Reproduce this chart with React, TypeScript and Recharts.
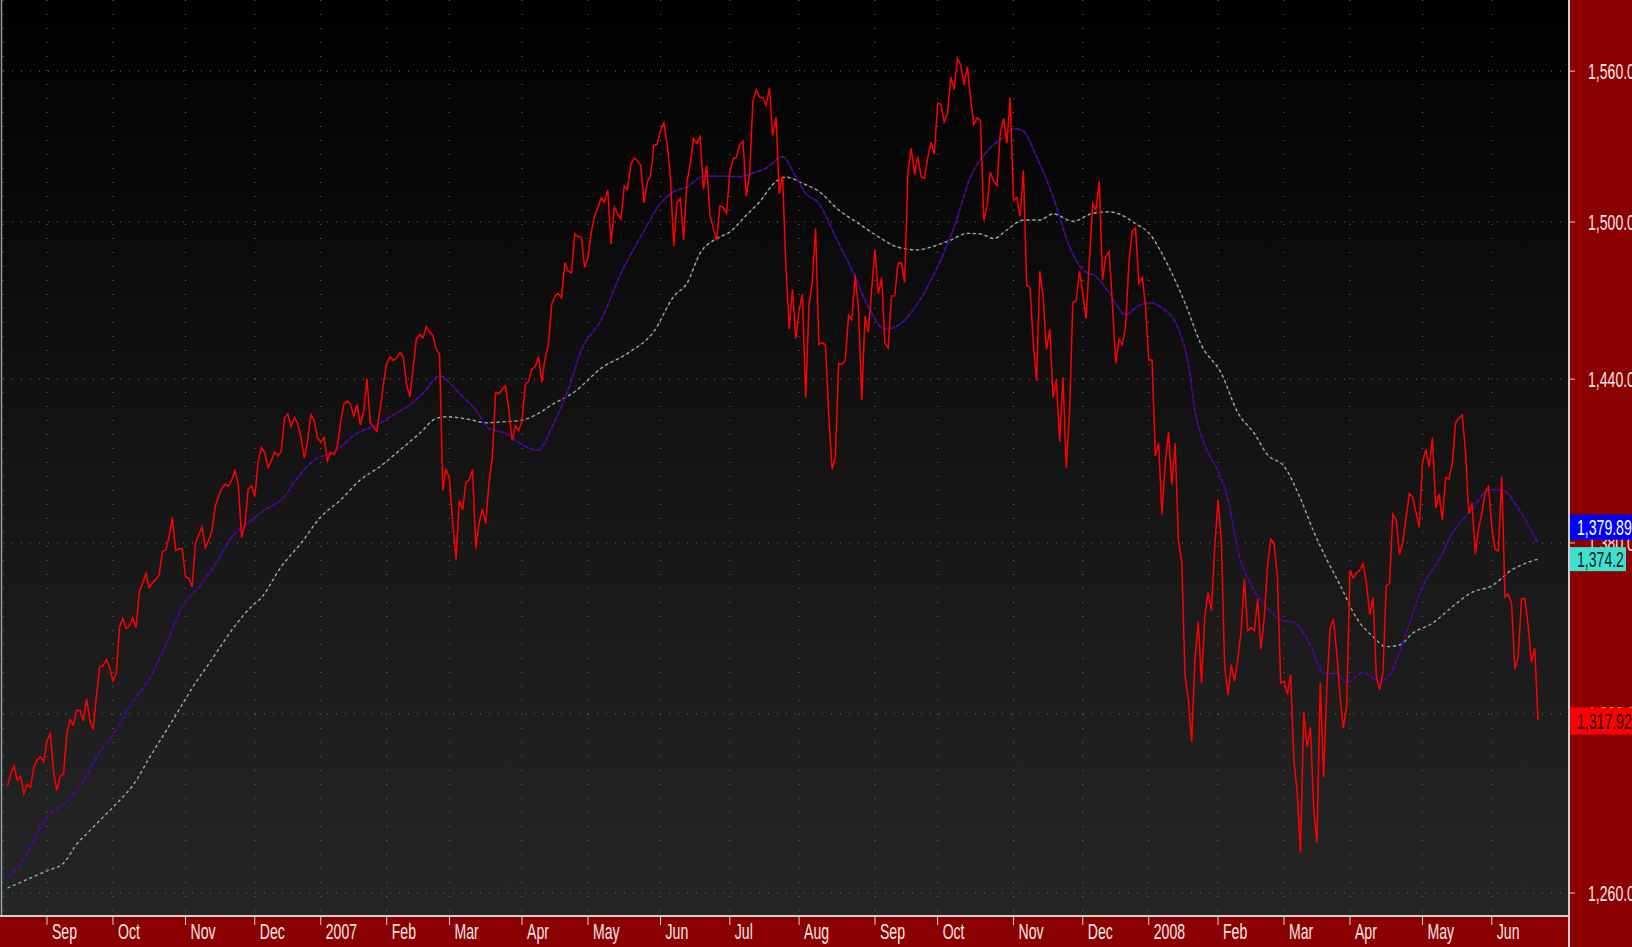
import React from 'react';
import { ComposedChart, Line, XAxis, YAxis, CartesianGrid } from 'recharts';

// Daily closes, one array per month (Aug 2006 – Jun 2008)
const aug06 = [1295.4, 1299.5, 1302.3, 1297.5, 1298.8, 1293.0, 1296.1, 1295.1, 1301.8, 1304.3, 1305.4, 1303.8];
const sep06 = [1311.01, 1313.25, 1300.26, 1294.02, 1298.92, 1299.54, 1313.0, 1318.07, 1316.28, 1321.18, 1321.18, 1317.64, 1325.18, 1318.03, 1314.78, 1326.37, 1336.35, 1336.59, 1338.88, 1335.85];
const oct06 = [1331.32, 1334.11, 1350.2, 1353.22, 1349.59, 1350.66, 1353.42, 1349.95, 1362.83, 1365.62, 1369.06, 1364.05, 1365.8, 1366.96, 1368.6, 1377.02, 1377.38, 1382.22, 1389.08, 1377.34, 1377.93, 1377.94];
const nov06 = [1367.81, 1367.34, 1364.3, 1379.78, 1382.84, 1385.72, 1378.33, 1380.9, 1384.42, 1393.22, 1396.57, 1399.76, 1401.2, 1400.5, 1402.81, 1406.09, 1400.95, 1381.96, 1386.72, 1399.48, 1400.63];
const dec06 = [1396.71, 1409.12, 1414.76, 1412.9, 1407.29, 1409.84, 1413.04, 1411.56, 1413.21, 1425.49, 1427.09, 1422.48, 1425.55, 1423.53, 1418.3, 1410.76, 1416.9, 1426.84, 1424.73, 1418.3];
const jan07 = [1416.6, 1418.34, 1409.71, 1412.84, 1412.11, 1414.85, 1423.82, 1430.73, 1431.9, 1430.62, 1426.37, 1430.5, 1422.95, 1427.99, 1440.13, 1423.9, 1422.18, 1420.62, 1428.82, 1438.24];
const feb07 = [1445.94, 1448.39, 1446.99, 1448.0, 1450.02, 1448.31, 1438.06, 1433.37, 1444.26, 1455.3, 1456.81, 1455.54, 1459.68, 1457.63, 1456.38, 1451.19, 1449.37, 1399.04, 1406.82];
const mar07 = [1403.17, 1387.17, 1374.12, 1395.41, 1391.97, 1401.89, 1402.84, 1406.6, 1377.95, 1387.17, 1392.28, 1386.95, 1402.06, 1410.94, 1435.04, 1434.54, 1436.11, 1437.5, 1428.61, 1417.23, 1422.53, 1420.86];
const apr07 = [1424.55, 1437.77, 1439.37, 1443.76, 1444.61, 1448.39, 1438.87, 1447.8, 1452.85, 1468.33, 1471.48, 1472.5, 1470.73, 1484.35, 1480.93, 1480.41, 1495.42, 1494.25, 1494.07, 1482.37];
const may07 = [1486.3, 1495.92, 1502.39, 1505.62, 1509.48, 1507.72, 1512.58, 1491.47, 1505.85, 1503.15, 1501.19, 1514.14, 1512.75, 1522.75, 1525.1, 1524.12, 1522.28, 1507.51, 1515.73, 1518.11, 1530.23, 1530.62];
const jun07 = [1536.34, 1539.18, 1530.95, 1517.38, 1490.72, 1507.67, 1509.12, 1493.0, 1515.67, 1522.97, 1532.91, 1531.05, 1533.7, 1512.84, 1522.19, 1502.56, 1497.74, 1492.89, 1506.34, 1505.71, 1503.35];
const jul07 = [1519.43, 1524.87, 1525.4, 1530.44, 1531.85, 1510.12, 1518.76, 1547.7, 1552.5, 1549.52, 1549.37, 1546.17, 1553.08, 1534.1, 1541.57, 1511.04, 1518.09, 1482.66, 1458.95, 1473.91, 1455.27];
const aug07 = [1465.81, 1472.2, 1433.06, 1467.67, 1476.71, 1497.49, 1453.09, 1453.64, 1452.92, 1426.54, 1406.7, 1411.27, 1445.94, 1445.55, 1447.12, 1464.07, 1462.5, 1479.37, 1466.79, 1432.36, 1463.76, 1457.64, 1473.99];
const sep07 = [1489.42, 1472.29, 1478.55, 1453.55, 1451.7, 1471.49, 1471.56, 1483.95, 1484.25, 1476.65, 1519.78, 1529.03, 1518.75, 1525.75, 1517.73, 1517.21, 1525.42, 1531.38, 1526.75];
const oct07 = [1547.04, 1546.63, 1539.59, 1542.84, 1557.59, 1552.58, 1565.15, 1562.47, 1554.41, 1561.8, 1548.71, 1538.53, 1541.24, 1540.08, 1500.63, 1506.33, 1519.59, 1515.88, 1514.4, 1535.28, 1540.98, 1531.02, 1549.38];
const nov07 = [1508.44, 1509.65, 1502.17, 1520.27, 1475.62, 1474.77, 1453.7, 1439.18, 1481.05, 1470.58, 1451.15, 1458.74, 1433.27, 1439.7, 1416.77, 1440.7, 1407.22, 1428.23, 1469.02, 1469.72, 1481.14];
const dec07 = [1472.42, 1462.79, 1485.01, 1507.34, 1504.66, 1515.96, 1477.65, 1486.59, 1488.41, 1467.95, 1445.9, 1454.98, 1453.0, 1460.12, 1484.46, 1496.45, 1497.66, 1476.27, 1478.49, 1468.36];
const jan08 = [1447.16, 1447.16, 1411.63, 1416.18, 1390.19, 1409.13, 1420.33, 1401.02, 1416.25, 1380.95, 1373.2, 1333.25, 1325.19, 1310.5, 1338.6, 1352.07, 1330.61, 1353.96, 1362.3, 1355.81, 1378.55];
const feb08 = [1395.42, 1380.82, 1336.64, 1326.45, 1336.91, 1331.29, 1339.13, 1348.86, 1367.21, 1348.86, 1349.99, 1348.78, 1360.03, 1342.53, 1353.11, 1371.8, 1381.29, 1380.02, 1367.68, 1330.63];
const mar08 = [1331.34, 1326.75, 1333.7, 1304.34, 1293.37, 1273.37, 1320.65, 1308.77, 1315.48, 1288.14, 1276.6, 1330.74, 1298.42, 1329.51, 1349.88, 1352.99, 1341.13, 1325.76, 1315.22, 1322.7];
const apr08 = [1370.18, 1367.53, 1369.31, 1370.4, 1372.54, 1365.54, 1354.49, 1360.55, 1332.83, 1328.32, 1334.43, 1364.71, 1365.56, 1390.33, 1388.17, 1375.94, 1379.93, 1388.82, 1397.84, 1396.37, 1390.94, 1385.59];
const may08 = [1409.34, 1413.9, 1407.49, 1418.26, 1392.57, 1397.68, 1388.28, 1403.58, 1403.04, 1408.66, 1423.57, 1425.35, 1426.63, 1413.4, 1390.71, 1394.35, 1375.93, 1385.35, 1390.84, 1398.26, 1400.38];
const jun08 = [1385.67, 1377.65, 1377.2, 1404.05, 1360.68, 1361.76, 1358.44, 1335.49, 1339.87, 1360.03, 1360.14, 1350.93, 1337.81, 1342.83, 1317.92];

const monthCloses = [aug06, sep06, oct06, nov06, dec06, jan07, feb07, mar07, apr07, may07, jun07, jul07, aug07, sep07, oct07, nov07, dec07, jan08, feb08, mar08, apr08, may08, jun08];
const monthLabels = ['', 'Sep', 'Oct', 'Nov', 'Dec', '2007', 'Feb', 'Mar', 'Apr', 'May', 'Jun', 'Jul', 'Aug', 'Sep', 'Oct', 'Nov', 'Dec', '2008', 'Feb', 'Mar', 'Apr', 'May', 'Jun'];

// Moving averages: [trading-day index, value]
const blueMA: [number, number][] = [
  [0, 1265.4], [5, 1271.1], [8, 1277.4], [12, 1285.1], [18, 1290.2], [23, 1297.3], [28, 1307], [32, 1312.8], [38, 1324], [43, 1332],
  [49, 1346.6], [53, 1357.4], [58, 1364.2], [63, 1372.3], [68, 1382], [74, 1388.2], [78, 1391.9], [84, 1396.7], [87, 1402], [93, 1410],
  [99, 1413], [106, 1419.9], [112, 1422.9], [117, 1426.7], [122, 1430.4], [126, 1434.7], [131, 1441.2], [137, 1434.7], [142, 1428.5],
  [146, 1421.7], [151, 1419.9], [157, 1415], [161, 1413.7], [165, 1422], [170, 1436], [174, 1450.9], [180, 1462.3], [186, 1480.2],
  [192, 1494.3], [198, 1507.3], [202, 1511.9], [206, 1513.8], [211, 1518], [216, 1518], [222, 1517.8], [226, 1519.2], [230, 1521.2],
  [235, 1525.7], [239, 1517.8], [242, 1511.2], [246, 1507.3], [251, 1494.3], [256, 1481.5], [261, 1467.4], [266, 1458.8], [271, 1461.1],
  [276, 1468.7], [282, 1482.7], [287, 1498.1], [292, 1517.8], [297, 1527.8], [302, 1533.6], [305, 1536.9], [308, 1535.9], [312, 1525.7],
  [317, 1509.9], [322, 1490.4], [326, 1481.5], [330, 1478.9], [334, 1472.7], [339, 1464.3], [343, 1467.8], [346, 1468.9], [351, 1466],
  [355, 1458.9], [358, 1445.7], [360, 1428.3], [363, 1415.5], [367, 1406], [370, 1396], [373, 1377.4], [377, 1365.1], [382, 1356.8],
  [386, 1352.7], [390, 1351.9], [395, 1343.8], [399, 1334], [403, 1334], [406, 1330.8], [411, 1334.3], [416, 1331.1], [419, 1333.4],
  [424, 1348], [429, 1364.5], [434, 1373.9], [438, 1383.5], [444, 1391.9], [449, 1399.1], [453, 1399.1], [458, 1392.5], [464, 1379.89],
];
const cyanMA: [number, number][] = [
  [0, 1261.6], [4, 1263.5], [8, 1265.4], [12, 1267.3], [17, 1269.8], [21, 1276.1], [25, 1280.6], [29, 1285.1], [33, 1289.5], [39, 1297.3],
  [43, 1305], [47, 1312.2], [52, 1321.4], [57, 1330.7], [61, 1337.2], [69, 1350.6], [74, 1357.4], [77, 1360.5], [83, 1371.5], [89, 1379.9],
  [95, 1389.4], [101, 1395.5], [107, 1402.8], [113, 1407.7], [119, 1413.7], [125, 1419.9], [130, 1425.4], [133, 1426], [140, 1425],
  [145, 1423.8], [151, 1424.2], [156, 1424.7], [161, 1427.3], [165, 1430.4], [172, 1435.3], [180, 1444.1], [188, 1449.7], [196, 1458],
  [202, 1471.3], [206, 1476.3], [210, 1487.9], [215, 1493.6], [219, 1496.1], [224, 1502.7], [228, 1507.9], [233, 1515.9], [236, 1517.6],
  [241, 1515.2], [246, 1512], [252, 1504.7], [258, 1499.5], [264, 1494.3], [270, 1490.2], [276, 1489.2], [281, 1490.7], [286, 1493],
  [291, 1495.6], [295, 1495.4], [299, 1493.6], [303, 1496.9], [308, 1500.8], [313, 1500.8], [317, 1503.2], [323, 1500.3], [329, 1503.4],
  [334, 1504], [337, 1503.2], [342, 1499.4], [346, 1495.8], [352, 1482.8], [357, 1468.8], [362, 1452.7], [368, 1442.2], [373, 1427.5],
  [378, 1419.8], [382, 1412], [387, 1407.8], [392, 1396], [396, 1384.1], [400, 1374], [404, 1365], [409, 1353.3], [414, 1346.8],
  [418, 1343.3], [422, 1343.9], [426, 1348], [432, 1351.5], [438, 1357.3], [444, 1362.4], [450, 1364.7], [456, 1370.3], [464, 1374.2],
];

const yTicks = [1260, 1320, 1380, 1440, 1500, 1560];

type Row = { i: number; close: number; blue?: number; cyan?: number };
const data: Row[] = [];
const tickIndex: number[] = [];
const tickText: Record<number, string> = {};
monthCloses.forEach((m, k) => {
  if (monthLabels[k]) {
    tickIndex.push(data.length);
    tickText[data.length] = monthLabels[k];
  }
  m.forEach((c) => data.push({ i: data.length, close: c }));
});
blueMA.forEach(([i, v]) => { if (data[i]) data[i].blue = v; });
cyanMA.forEach(([i, v]) => { if (data[i]) data[i].cyan = v; });

const lastClose = data[data.length - 1].close;
const lastBlue = blueMA[blueMA.length - 1][1];
const lastCyan = cyanMA[cyanMA.length - 1][1];

const FONT = '"Liberation Sans", Arial, Helvetica, sans-serif';
const TXT = '#f2e6e6';

const fmt = (v: number, d: number) => v.toLocaleString('en-US', { minimumFractionDigits: d, maximumFractionDigits: d });

// last-value badges, drawn as extra ticks (after the regular ones, so on top)
const badges: Record<string, { text: string; bg: string; fg: string; w: number; h: number; dy: number }> = {
  [String(lastBlue)]: { text: fmt(lastBlue, 2), bg: '#0000ff', fg: '#ffffff', w: 63, h: 25, dy: -16 },
  [String(lastCyan)]: { text: fmt(lastCyan, 1), bg: '#40e0d0', fg: '#102020', w: 56, h: 24, dy: 0 },
  [String(lastClose)]: { text: fmt(lastClose, 2), bg: '#ff0000', fg: '#200000', w: 63, h: 27, dy: 1 },
};
const allYTicks = [...yTicks, lastClose, lastCyan, lastBlue];

const XTick = (props: any) => {
  const { x, y, payload } = props;
  return (
    <g>
      <line x1={x} x2={x} y1={y + 1} y2={y + 9} stroke="#d8d8d8" strokeWidth={1} />
      <text transform={`translate(${x + 5},${y + 23}) scale(0.64,1)`} fontFamily={FONT} fontSize={22} fill={TXT}>
        {tickText[payload.value]}
      </text>
    </g>
  );
};

const YTick = (props: any) => {
  const { x, y, payload } = props;
  const b = badges[String(payload.value)];
  if (b) {
    const x0 = x + 1;
    const yc = y + b.dy;
    return (
      <g>
        <rect x={x0} y={yc - b.h / 2} width={b.w} height={b.h} fill={b.bg} />
        <text transform={`translate(${x0 + 7},${yc + 8}) scale(0.64,1)`} fontFamily={FONT} fontSize={22} fill={b.fg}>
          {b.text}
        </text>
      </g>
    );
  }
  return (
    <g>
      <line x1={x} x2={x + 6} y1={y} y2={y} stroke="#d0d0d0" strokeWidth={1} />
      <text transform={`translate(${x + 19},${y + 8}) scale(0.64,1)`} fontFamily={FONT} fontSize={22} fill={TXT}>
        {fmt(payload.value, 1)}
      </text>
    </g>
  );
};

export default function App() {
  return (
    <div style={{ position: 'absolute', left: 0, top: 0, width: 1632, height: 947, background: '#8b0000', overflow: 'hidden' }}>
      <div style={{ position: 'absolute', left: 0, top: 0, width: 1569, height: 916, background: 'linear-gradient(to bottom, #000000 0%, #141414 50%, #262626 100%)' }} />
      <div style={{ position: 'absolute', left: 0, top: 0 }}>
        <ComposedChart width={1632} height={947} data={data} margin={{ top: 0, right: 0, bottom: 0, left: 3 }}>
          <CartesianGrid horizontal vertical={false} horizontalValues={yTicks} stroke="#6e6e6e" strokeDasharray="1 8" />
          <CartesianGrid horizontal={false} vertical stroke="#6e6e6e" strokeDasharray="1 13" />
          <XAxis
            dataKey="i"
            type="number"
            domain={[-1.334, 473.4]}
            allowDataOverflow
            ticks={tickIndex}
            interval={0}
            height={31}
            axisLine={false}
            tickLine={false}
            tickSize={0}
            tickMargin={0}
            tick={<XTick />}
          />
          <YAxis
            orientation="right"
            type="number"
            scale="log"
            domain={[1252.5, 1589.1]}
            allowDataOverflow
            ticks={allYTicks}
            interval={0}
            width={63}
            axisLine={false}
            tickLine={false}
            tickSize={0}
            tickMargin={0}
            tick={<YTick />}
          />
          <Line dataKey="cyan" name="cyanBase" stroke="#7a0000" strokeWidth={1.4} dot={false} connectNulls type="monotone" isAnimationActive={false} />
          <Line dataKey="cyan" name="cyanDash" stroke="#40d8c8" strokeWidth={1.4} strokeDasharray="3 3" dot={false} connectNulls type="monotone" isAnimationActive={false} />
          <Line dataKey="blue" name="blueBase" stroke="#7a0000" strokeWidth={1.4} dot={false} connectNulls type="monotone" isAnimationActive={false} />
          <Line dataKey="blue" name="blueDash" stroke="#1414ff" strokeWidth={1.5} strokeDasharray="4 3" dot={false} connectNulls type="monotone" isAnimationActive={false} />
          <Line dataKey="close" name="close" stroke="#ff0000" strokeWidth={1.5} dot={false} type="linear" isAnimationActive={false} />
        </ComposedChart>
      </div>
      <svg width={1632} height={947} style={{ position: 'absolute', left: 0, top: 0, pointerEvents: 'none' }}>
        <line x1={1.5} x2={1.5} y1={0} y2={916} stroke="#8fa0a8" strokeWidth={1.5} />
        <line x1={0} x2={1569} y1={916} y2={916} stroke="#cfcfcf" strokeWidth={2} />
        <line x1={1569} x2={1569} y1={0} y2={947} stroke="#cfcfcf" strokeWidth={2} />
      </svg>
    </div>
  );
}
